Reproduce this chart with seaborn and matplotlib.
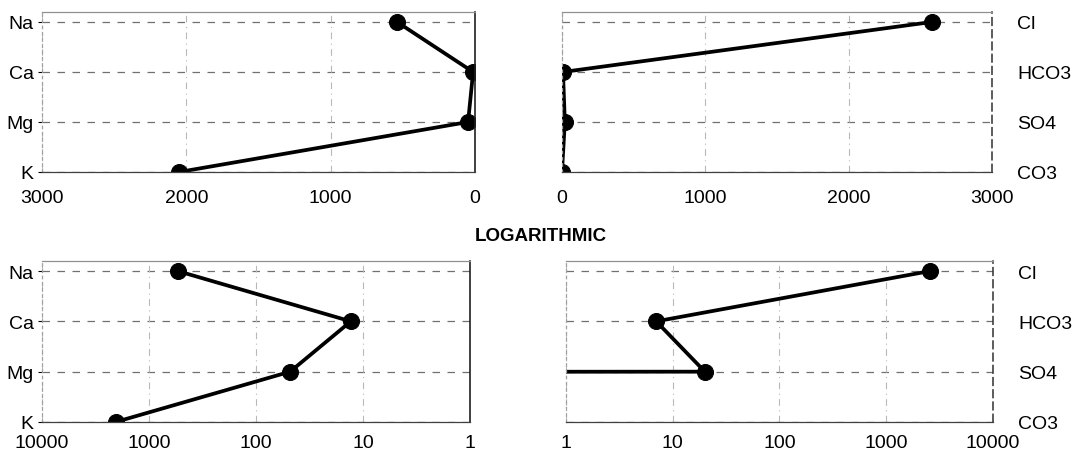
import numpy as np
import pandas as pd
import seaborn as sns
import matplotlib.pyplot as plt

# cations (left panels) and anions (right panels), top to bottom
cations = ['Na', 'Ca', 'Mg', 'K']
cation_vals = [540, 13, 48, 2050]
anions = ['Cl', 'HCO3', 'SO4', 'CO3']
anion_vals = [2580, 7, 20, 0]

lin_ticks = [0, 1000, 2000, 3000]
log_ticks = [1, 10, 100, 1000, 10000]

sns.set_style('white')
plt.rcParams['font.family'] = ['Liberation Sans', 'DejaVu Sans']
plt.rcParams['font.size'] = 14
plt.rcParams['text.color'] = 'black'
plt.rcParams['xtick.color'] = 'black'
plt.rcParams['ytick.color'] = 'black'

fig = plt.figure(figsize=(10.83, 4.64), dpi=100)

# axes boxes (figure fractions)
boxes = {
    'tl': [0.0388, 0.6272, 0.3998, 0.3448],
    'tr': [0.5189, 0.6272, 0.3970, 0.3448],
    'bl': [0.0388, 0.0884, 0.3952, 0.3470],
    'br': [0.5226, 0.0884, 0.3943, 0.3470],
}

ypos = np.arange(len(cations))[::-1]  # Na at top ... K at bottom


def draw(ax, names, vals, log, left_side):
    df = pd.DataFrame({'ion': names, 'val': vals, 'pos': ypos})
    sns.lineplot(data=df, x='val', y='pos', sort=False, estimator=None,
                 color='black', linewidth=2.7, marker='o', markersize=11.5,
                 markeredgecolor='black', ax=ax, clip_on=True)
    if log:
        ax.set_xscale('log')
        ax.set_xticks(log_ticks)
        ax.set_xticklabels([str(t) for t in log_ticks])
        ax.minorticks_off()
        ax.set_xlim(10000, 1) if left_side else ax.set_xlim(1, 10000)
        xpad = 9
    else:
        ax.set_xticks(lin_ticks)
        ax.set_xticklabels([str(t) for t in lin_ticks])
        ax.set_xlim(3000, 0) if left_side else ax.set_xlim(0, 3000)
        xpad = 12
    ax.set_ylim(0, 3.2)
    ax.set_yticks(ypos)
    ax.set_yticklabels(names)
    ax.set_xlabel('')
    ax.set_ylabel('')

    # horizontal dashed grid at each ion, lighter vertical grid at x ticks
    for y in ypos:
        ax.axhline(y, color='#707070', linewidth=0.9, linestyle=(0, (6, 6)), zorder=0)
    for t in ax.get_xticks():
        ax.axvline(t, color='#b8b8b8', linewidth=0.8, linestyle=(0, (6, 4, 1, 4)), zorder=0)

    ax.tick_params(axis='x', length=0, pad=xpad, labelsize=14)
    for s in ax.spines.values():
        s.set_color('#909090')
        s.set_linewidth(0.9)
    ax.spines['bottom'].set_color('#404040')
    if left_side:
        ax.tick_params(axis='y', length=3, pad=3, labelsize=14, left=True)
        ax.spines['right'].set_color('#202020')
        ax.spines['right'].set_linewidth(1.2)
        ax.spines['left'].set_linestyle((0, (2, 3)))
        ax.spines['left'].set_color('#a0a0a0')
    else:
        ax.yaxis.tick_right()
        ax.tick_params(axis='y', length=0, pad=18, labelsize=14)
        ax.spines['right'].set_color('#303030')
        ax.spines['right'].set_linewidth(1.1)
        ax.spines['right'].set_linestyle((0, (5, 3)))
        ax.spines['left'].set_linestyle((0, (2, 3)))
        ax.spines['left'].set_color('#a0a0a0')
    ax.set_facecolor('white')


ax_tl = fig.add_axes(boxes['tl'])
draw(ax_tl, cations, cation_vals, log=False, left_side=True)
ax_tr = fig.add_axes(boxes['tr'])
draw(ax_tr, anions, anion_vals, log=False, left_side=False)
ax_bl = fig.add_axes(boxes['bl'])
draw(ax_bl, cations, cation_vals, log=True, left_side=True)
ax_br = fig.add_axes(boxes['br'])
draw(ax_br, anions, anion_vals, log=True, left_side=False)

fig.text(0.4995, 1 - 237 / 464, 'LOGARITHMIC', ha='center', va='center',
         fontsize=13.5, fontweight='bold', color='black')

fig.savefig('out.png', dpi=100)
